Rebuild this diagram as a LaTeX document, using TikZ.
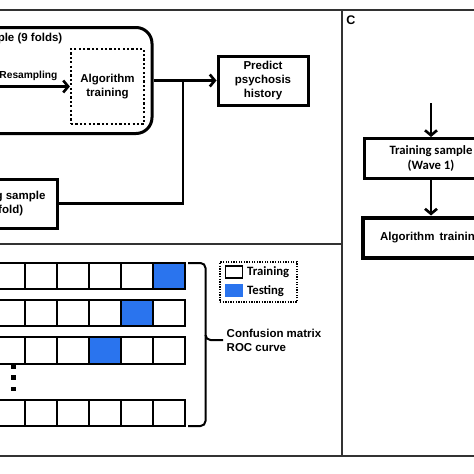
\documentclass[tikz,border=0pt]{standalone}
\usepackage{fontspec}
\setmainfont{Liberation Sans}
\newfontfamily\calfont{Carlito}
\usetikzlibrary{arrows.meta}
\definecolor{tblue}{RGB}{42,116,238}
\definecolor{frame}{RGB}{50,50,50}
\tikzset{
  frameline/.style={draw=frame,line width=1.3pt},
  txt/.style={font=\bfseries\fontsize{11.5}{14}\selectfont,inner sep=0pt,align=center},
  caltxt/.style={font=\calfont\bfseries\fontsize{12.7}{15}\selectfont,inner sep=0pt,align=center},
  thickbox/.style={draw=black,line width=3pt,txt,inner sep=0pt},
  conn/.style={draw=black,line width=2.6pt},
  arr/.style={conn,-{Straight Barb[length=5pt,width=12pt]}},
  cellbox/.style={draw=black,line width=1.8pt,minimum width=32pt,minimum height=26.5pt,inner sep=0pt,fill=white},
  dotbox/.style={draw=black,line width=2.2pt,dash pattern=on 2.2pt off 2.2pt,inner sep=0pt},
}
\begin{document}
\begin{tikzpicture}[x=1pt,y=-1pt]
\useasboundingbox (0,0) rectangle (474,474);
\clip (0,0) rectangle (474,474);
\fill[white] (0,0) rectangle (474,474);
% frame
\draw[frameline] (0,10) -- (474,10);
\draw[frameline] (342,10) -- (342,456);
\draw[frameline] (0,244) -- (342,244);
\draw[frameline] (0,456) -- (474,456);
% ---------- panel A ----------
\node[thickbox,rounded corners=16pt,minimum width=212pt,minimum height=106pt] (train9) at (46,80.5) {};
\node[txt,anchor=east] (train9lab) at (62.5,39) {Training sample (9 folds)};
\node[dotbox,txt,minimum width=73pt,minimum height=75pt] (alg) at (107.5,86.5) {Algorithm\\training};
\coordinate (rsstart) at (-12,86.5);
\draw[arr] (rsstart) -- (alg.west);
\node[txt,font=\bfseries\fontsize{10.2}{12}\selectfont,anchor=east] (rslab) at (57.5,76) {Resampling};
\node[thickbox,minimum width=90pt,minimum height=49pt] (predict) at (263,80.5) {Predict\\psychosis\\history};
\draw[arr] (train9.east) -- (predict.west);
\node[thickbox,minimum width=106pt,minimum height=49pt] (test) at (4,203.5) {Testing sample\\(1 fold)};
\coordinate (junc) at (183,80.5);
\draw[conn] (test.east) -| (junc);
% ---------- panel B ----------
\foreach \r/\y in {1/276,2/313,3/350.5,4/413}{
  \foreach \c in {0,...,5}{
    \node[cellbox] (cell-\r-\c) at ({9+32*\c},\y) {};
  }
}
\node[cellbox,fill=tblue] (blue1) at (cell-1-5) {};
\node[cellbox,fill=tblue] (blue2) at (cell-2-4) {};
\node[cellbox,fill=tblue] (blue3) at (cell-3-3) {};
\foreach \y [count=\i] in {366.5,377.5,389}{
  \fill[black] (10.5,\y-2.2) rectangle (16,\y+2.2);
}
% brace
\coordinate (brtop) at (188,263);
\coordinate (brbot) at (188,426);
\coordinate (brtip) at (223,340);
\draw[black,line width=2pt,rounded corners=5pt] (brtop) -- (205.5,263) -- (205.5,340) -- (brtip);
\draw[black,line width=2pt,rounded corners=5pt] (205.5,335) -- (205.5,426) -- (brbot);
\node[txt,anchor=west,align=left] (conf) at (226.5,340) {Confusion matrix\\ROC curve};
% legend
\node[draw=black,line width=1.3pt,dash pattern=on 1.3pt off 1.3pt,minimum width=77pt,minimum height=40pt,inner sep=0pt] (legend) at (258.5,282) {};
\node[draw=black,line width=1.6pt,minimum width=17pt,minimum height=12pt,inner sep=0pt] (swtrain) at (234,272) {};
\node[fill=tblue,minimum width=18pt,minimum height=13pt,inner sep=0pt] (swtest) at (234,290.5) {};
\node[caltxt,anchor=west] (ltrain) at (247,272.5) {Training};
\node[caltxt,anchor=west] (ltest) at (247,291) {Testing};
% ---------- panel C ----------
\node[font=\bfseries\fontsize{12.5}{14}\selectfont,inner sep=0pt] (clab) at (351,20.5) {C};
\node[thickbox,caltxt,minimum width=134pt,minimum height=40pt] (wave1) at (431,158.5) {Training sample\\(Wave 1)};
\coordinate (ctop) at (431,103);
\draw[arr] (ctop) -- (wave1.north);
\node[thickbox,line width=4pt,minimum width=136pt,minimum height=40pt] (algc) at (431,237.5) {Algorithm\hspace{2pt} training};
\draw[arr] (wave1.south) -- (algc.north);
\end{tikzpicture}
\end{document}
